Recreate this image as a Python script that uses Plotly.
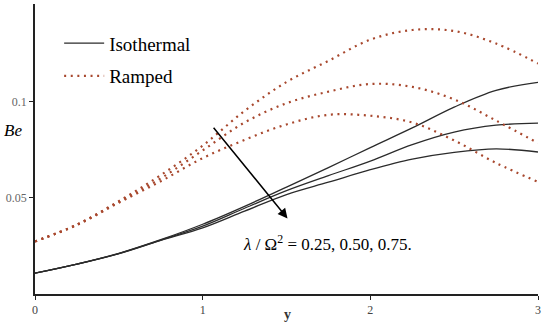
import plotly.graph_objects as go

# ---------------- data ----------------
y_vals = [0, 0.25, 0.5, 0.75, 1.0, 1.25, 1.5, 1.75, 2.0, 2.25, 2.5, 2.75, 3.0]

ramped_025 = [0.0273, 0.0360, 0.0482, 0.0617, 0.0770, 0.0950, 0.1100, 0.1210, 0.1320, 0.1370, 0.1365, 0.1300, 0.1196]
ramped_050 = [0.0273, 0.0360, 0.0478, 0.0600, 0.0745, 0.0890, 0.0990, 0.1050, 0.1090, 0.1075, 0.1010, 0.0900, 0.0783]
ramped_075 = [0.0273, 0.0358, 0.0474, 0.0585, 0.0705, 0.0800, 0.0880, 0.0930, 0.0925, 0.0890, 0.0797, 0.0680, 0.0582]

iso_025 = [0.0108, 0.0155, 0.0211, 0.0282, 0.0362, 0.0455, 0.0555, 0.0656, 0.0760, 0.0862, 0.0970, 0.1057, 0.1098]
iso_050 = [0.0108, 0.0155, 0.0210, 0.0280, 0.0352, 0.0445, 0.0536, 0.0614, 0.0690, 0.0775, 0.0840, 0.0876, 0.0887]
iso_075 = [0.0108, 0.0155, 0.0209, 0.0278, 0.0343, 0.0430, 0.0516, 0.0580, 0.0645, 0.0700, 0.0735, 0.0753, 0.0737]

x_ticks = [0, 1, 2, 3]
y_ticks = [0.05, 0.1]
y_tick_text = ["0.05", "0.1"]

arrow_start = (1.058, 0.0871)
arrow_end = (1.506, 0.0392)

ramp_color = "#a8482e"
iso_color = "#2b2b2b"
serif = "Times New Roman, Liberation Serif, serif"

fig = go.Figure()

for i, s in enumerate([iso_025, iso_050, iso_075]):
    fig.add_trace(go.Scatter(
        x=y_vals, y=s, mode="lines", line=dict(color=iso_color, width=1.3, shape="spline"),
        name="Isothermal", showlegend=(i == 0), legendgroup="iso"))

for i, s in enumerate([ramped_025, ramped_050, ramped_075]):
    fig.add_trace(go.Scatter(
        x=y_vals, y=s, mode="lines",
        line=dict(color=ramp_color, width=2.2, dash="2px,4.6px", shape="spline"),
        name="Ramped", showlegend=(i == 0), legendgroup="ramp"))

fig.add_annotation(
    x=arrow_end[0], y=arrow_end[1], ax=arrow_start[0], ay=arrow_start[1],
    xref="x", yref="y", axref="x", ayref="y", text="",
    showarrow=True, arrowhead=2, arrowsize=1.3, arrowwidth=1.5, arrowcolor="black")

fig.add_annotation(
    x=(241 - 35) / 503, y=(294 - 243) / 290, xref="paper", yref="paper",
    xanchor="left", yanchor="middle", showarrow=False,
    text="<i>λ</i> / Ω<sup>2</sup> = 0.25, 0.50, 0.75.",
    font=dict(family=serif, size=17, color="black"))

fig.add_annotation(
    x=-0.043, y=(294 - 130) / 290, xref="paper", yref="paper",
    xanchor="center", yanchor="middle", showarrow=False,
    text="<i>Be</i>", font=dict(family=serif, size=17, color="black"))

fig.add_annotation(
    x=(287 - 35) / 503, y=(294 - 314) / 290, xref="paper", yref="paper",
    xanchor="center", yanchor="middle", showarrow=False,
    text="<b>y</b>", font=dict(family=serif, size=14, color="#333"))

fig.update_layout(
    width=550, height=324,
    margin=dict(l=35, r=12, t=4, b=30),
    paper_bgcolor="white", plot_bgcolor="white",
    showlegend=True,
    legend=dict(x=0.048, y=0.93, xanchor="left", yanchor="top",
                bgcolor="rgba(0,0,0,0)", font=dict(family=serif, size=19, color="black"),
                tracegroupgap=5, itemwidth=40),
    xaxis=dict(range=[0, 3], tickvals=x_ticks, ticktext=[str(t) for t in x_ticks],
               showgrid=False, zeroline=False, showline=True, linecolor="#222", linewidth=1.5,
               ticks="outside", ticklen=4, tickcolor="#222",
               tickfont=dict(family=serif, size=12, color="#444")),
    yaxis=dict(range=[0, 0.1505], tickvals=y_ticks, ticktext=y_tick_text,
               showgrid=False, zeroline=False, showline=True, linecolor="#222", linewidth=1.5,
               ticks="outside", ticklen=4, tickcolor="#222",
               tickfont=dict(family=serif, size=12, color="#666")),
)

fig.write_html("out.html", config={"displayModeBar": False},
               post_script="document.body.style.margin='0';")
